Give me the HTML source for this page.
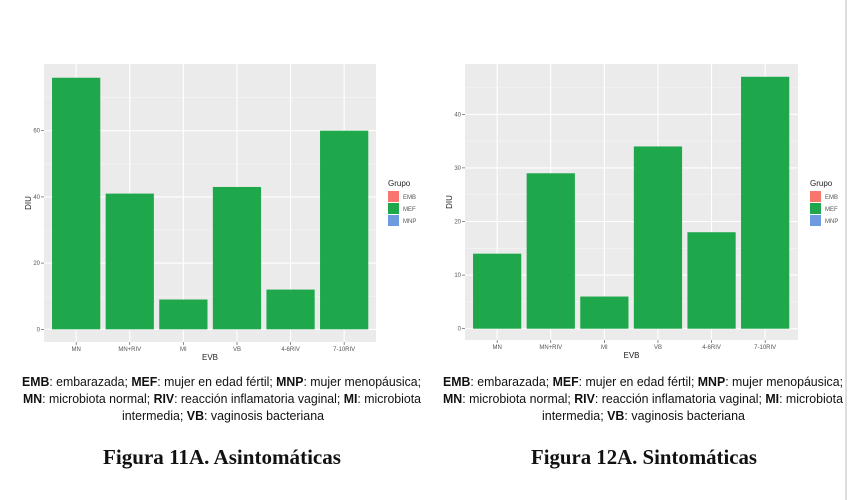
<!DOCTYPE html>
<html><head><meta charset="utf-8"><style>
html,body{margin:0;padding:0;background:#fff;width:849px;height:500px;overflow:hidden}
svg{display:block}
.cap{font-family:"Liberation Sans",sans-serif;font-size:13px;fill:#111}
.ttl{font-family:"Liberation Serif",serif;font-size:21px;font-weight:bold;fill:#111}
.tk{font-family:"Liberation Sans",sans-serif;font-size:6px;fill:#555}
.ax{font-family:"Liberation Sans",sans-serif;font-size:8px;fill:#222}
</style></head><body>
<svg id="root" width="849" height="500" xmlns="http://www.w3.org/2000/svg">
<line x1="846" y1="0" x2="846" y2="500" stroke="#ddd" stroke-width="2"/>
<g id="c1"></g>
<g id="c2"></g>
<g>
<text class="cap" x="22" y="386" textLength="399" lengthAdjust="spacingAndGlyphs"><tspan font-weight="bold">EMB</tspan>: embarazada; <tspan font-weight="bold">MEF</tspan>: mujer en edad fértil; <tspan font-weight="bold">MNP</tspan>: mujer menopáusica;</text>
<text class="cap" x="23" y="403" textLength="398" lengthAdjust="spacingAndGlyphs"><tspan font-weight="bold">MN</tspan>: microbiota normal; <tspan font-weight="bold">RIV</tspan>: reacción inflamatoria vaginal; <tspan font-weight="bold">MI</tspan>: microbiota</text>
<text class="cap" x="122" y="420" textLength="202" lengthAdjust="spacingAndGlyphs">intermedia; <tspan font-weight="bold">VB</tspan>: vaginosis bacteriana</text>
<text class="ttl" x="103" y="464" textLength="238" lengthAdjust="spacingAndGlyphs">Figura 11A. Asintomáticas</text>
</g>
<g>
<text class="cap" x="443" y="386" textLength="400" lengthAdjust="spacingAndGlyphs"><tspan font-weight="bold">EMB</tspan>: embarazada; <tspan font-weight="bold">MEF</tspan>: mujer en edad fértil; <tspan font-weight="bold">MNP</tspan>: mujer menopáusica;</text>
<text class="cap" x="443" y="403" textLength="400" lengthAdjust="spacingAndGlyphs"><tspan font-weight="bold">MN</tspan>: microbiota normal; <tspan font-weight="bold">RIV</tspan>: reacción inflamatoria vaginal; <tspan font-weight="bold">MI</tspan>: microbiota</text>
<text class="cap" x="542" y="420" textLength="203" lengthAdjust="spacingAndGlyphs">intermedia; <tspan font-weight="bold">VB</tspan>: vaginosis bacteriana</text>
<text class="ttl" x="531" y="464" textLength="226" lengthAdjust="spacingAndGlyphs">Figura 12A. Sintomáticas</text>
</g>
</svg>
<script>
const categories = ["MN","MN+RIV","MI","VB","4-6RIV","7-10RIV"];
const valuesAsintomaticas = [76,41,9,43,12,60];
const valuesSintomaticas = [14,29,6,34,18,47];
const ticksAsintomaticas = [0,20,40,60];
const ticksSintomaticas = [0,10,20,30,40];
const legendGroups = ["EMB","MEF","MNP"];
const legendColors = ["#f8766d","#1fa84b","#6e9be0"];
const NS="http://www.w3.org/2000/svg";
function mk(p,tag,a){const e=document.createElementNS(NS,tag);for(const k in a)e.setAttribute(k,a[k]);p.appendChild(e);return e;}
function draw(g,cfg,vals,ticks){
  const {x0,x1,y0,y1,zero,unit,step,lx}=cfg;
  const ys=v=>zero-v*unit;
  const xs=i=>x0+step*(0.6+i);
  const panel=mk(g,'rect',{x:x0,y:y0,width:x1-x0,height:y1-y0,fill:'#ebebeb'});
  
  
  const tstep=ticks[1]-ticks[0];
  for(let v=tstep/2;ys(v)>y0;v+=tstep){mk(g,'line',{x1:x0,x2:x1,y1:ys(v),y2:ys(v),stroke:'#f6f6f6','stroke-width':0.6});}
  ticks.forEach(t=>{
    const l=mk(g,'line',{x1:x0,x2:x1,y1:ys(t),y2:ys(t),stroke:'#fff','stroke-width':1.1});
    
    
    mk(g,'line',{x1:x0-3,x2:x0,y1:ys(t),y2:ys(t),stroke:'#444','stroke-width':0.6});
    const tx=mk(g,'text',{x:x0-4,y:ys(t)+2,'text-anchor':'end',class:'tk'});tx.textContent=t;
    
    
  });
  categories.forEach((c,i)=>{
    mk(g,'line',{x1:xs(i),x2:xs(i),y1:y0,y2:y1,stroke:'#fff','stroke-width':1.1});
  });
  categories.forEach((c,i)=>{
    const w=step*0.9;
    const b=mk(g,'rect',{x:xs(i)-w/2,y:ys(vals[i]),width:w,height:vals[i]*unit,fill:'#1fa84b'});
    
    
    mk(g,'line',{x1:xs(i),x2:xs(i),y1:y1,y2:y1+3,stroke:'#444','stroke-width':0.6});
    const t=mk(g,'text',{x:xs(i),y:y1+9,'text-anchor':'middle',class:'tk'});t.textContent=c;
    
    
  });
  const xt=mk(g,'text',{x:(x0+x1)/2,y:y1+18,'text-anchor':'middle',class:'ax'});xt.textContent='EVB';
  
  
  const yt=mk(g,'text',{x:0,y:0,'text-anchor':'middle',class:'ax',transform:`translate(${x0-13},${(y0+y1)/2}) rotate(-90)`});yt.textContent='DIU';
  
  
  const lg=mk(g,'g',{});
  
  
  const lt=mk(lg,'text',{x:lx,y:186,class:'ax'});lt.textContent='Grupo';
  legendGroups.forEach((n,i)=>{
    const r=mk(lg,'rect',{x:lx,y:191+i*12,width:11,height:11,fill:legendColors[i]});
    
    
    const t=mk(lg,'text',{x:lx+15,y:199+i*12,class:'tk'});t.textContent=n;
    
    
  });
}
draw(document.getElementById('c1'),{x0:44,x1:376,y0:64,y1:342,zero:329.3,unit:3.31,step:53.6,lx:388},valuesAsintomaticas,ticksAsintomaticas);
draw(document.getElementById('c2'),{x0:465,x1:798,y0:64,y1:340,zero:328.7,unit:5.36,step:53.6,lx:810},valuesSintomaticas,ticksSintomaticas);
</script>
</body></html>
